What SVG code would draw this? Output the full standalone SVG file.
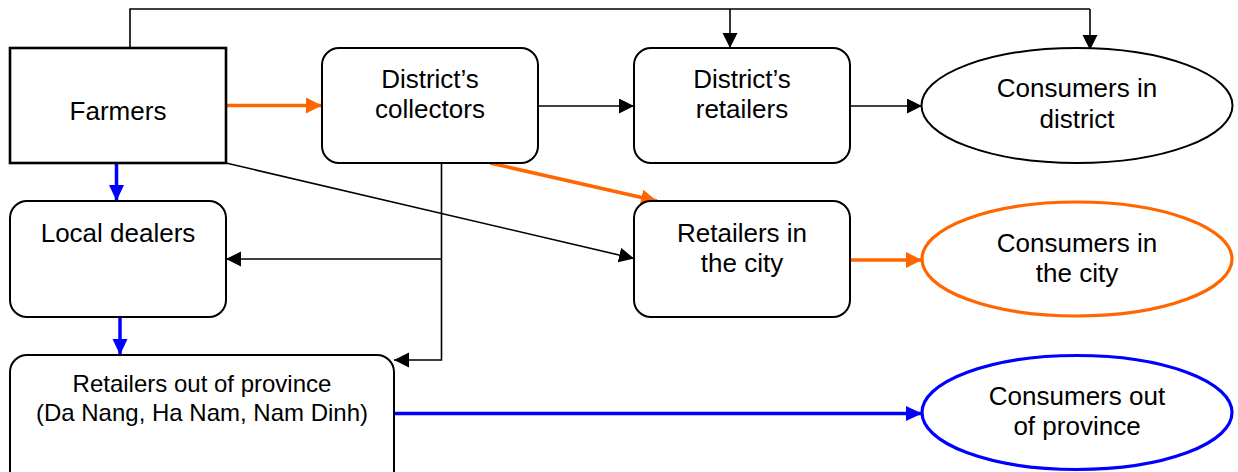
<svg xmlns="http://www.w3.org/2000/svg" width="1238" height="472" viewBox="0 0 1238 472">
<defs>
<style>
.box{fill:#fff;stroke:#000;stroke-width:2}
.t{font-family:"Liberation Sans",Arial,sans-serif;font-size:26px;fill:#000;text-anchor:middle}
.ts{font-family:"Liberation Sans",Arial,sans-serif;font-size:24px;fill:#000;text-anchor:middle}
.k{fill:none;stroke:#000;stroke-width:1.6}
.o{fill:none;stroke:#FF6600;stroke-width:3.5}
.b{fill:none;stroke:#0000FF;stroke-width:3.5}
</style>
<marker id="ak" markerUnits="userSpaceOnUse" markerWidth="16" markerHeight="16" refX="15" refY="7.5" orient="auto" viewBox="0 0 16 16"><path d="M0,0 L15,7.5 L0,15 z" fill="#000"/></marker>
<marker id="ao" markerUnits="userSpaceOnUse" markerWidth="17" markerHeight="17" refX="16" refY="8" orient="auto" viewBox="0 0 17 17"><path d="M0,0 L16,8 L0,16 z" fill="#FF6600"/></marker>
<marker id="ab" markerUnits="userSpaceOnUse" markerWidth="17" markerHeight="17" refX="16" refY="7.5" orient="auto" viewBox="0 0 17 17"><path d="M0,0 L16,7.5 L0,15 z" fill="#0000FF"/></marker>
</defs>
<rect width="1238" height="472" fill="#fff"/>
<g id="connectors">
<path class="k" d="M130,48 V9 H1090"/>
<path class="k" d="M730,9 V48" marker-end="url(#ak)"/>
<path class="k" d="M1090,9 V50" marker-end="url(#ak)"/>
<path class="o" d="M226,105.5 H322" marker-end="url(#ao)"/>
<path class="k" d="M538,106 H634" marker-end="url(#ak)"/>
<path class="k" d="M850,106 H922" marker-end="url(#ak)"/>
<path class="k" d="M226,163 L634,258.5" marker-end="url(#ak)"/>
<path class="o" d="M490,163 L657,201" marker-end="url(#ao)"/>
<path class="k" d="M441.5,163 V360 H394" marker-end="url(#ak)"/>
<path class="k" d="M441.5,259 H226" marker-end="url(#ak)"/>
<path class="b" d="M116.5,163 V201" marker-end="url(#ab)"/>
<path class="b" d="M120,317 V355" marker-end="url(#ab)"/>
<path class="o" d="M850,260 H922" marker-end="url(#ao)"/>
<path class="b" d="M394,413.5 H922" marker-end="url(#ab)"/>
</g>
<g id="farmers">
<rect x="10" y="48" width="216" height="115" fill="#fff" stroke="#000" stroke-width="2.6"/>
<text class="t" x="118" y="120">Farmers</text>
</g>
<g id="district-collectors">
<rect class="box" x="322" y="48" width="216" height="115" rx="17"/>
<text class="t" x="430" y="88">District’s</text>
<text class="t" x="430" y="118">collectors</text>
</g>
<g id="district-retailers">
<rect class="box" x="634" y="48" width="216" height="115" rx="17"/>
<text class="t" x="742" y="88">District’s</text>
<text class="t" x="742" y="118">retailers</text>
</g>
<g id="consumers-district">
<ellipse class="box" cx="1077" cy="105.5" rx="155.5" ry="57.5"/>
<text class="t" x="1077" y="97">Consumers in</text>
<text class="t" x="1077" y="128">district</text>
</g>
<g id="local-dealers">
<rect class="box" x="10" y="201" width="216" height="116" rx="17"/>
<text class="t" x="118" y="242">Local dealers</text>
</g>
<g id="retailers-city">
<rect class="box" x="634" y="201" width="216" height="116" rx="17"/>
<text class="t" x="742" y="242">Retailers in</text>
<text class="t" x="742" y="272">the city</text>
</g>
<g id="consumers-city">
<ellipse cx="1077" cy="259" rx="155" ry="57" fill="#fff" stroke="#FF6600" stroke-width="3.2"/>
<text class="t" x="1077" y="252">Consumers in</text>
<text class="t" x="1077" y="282">the city</text>
</g>
<g id="retailers-out">
<rect class="box" x="10" y="355" width="384" height="140" rx="17"/>
<text class="ts" x="202" y="392">Retailers out of province</text>
<text class="ts" x="202" y="421">(Da Nang, Ha Nam, Nam Dinh)</text>
</g>
<g id="consumers-out">
<ellipse cx="1077" cy="412.5" rx="155" ry="57" fill="#fff" stroke="#0000FF" stroke-width="3.2"/>
<text class="t" x="1077" y="405">Consumers out</text>
<text class="t" x="1077" y="435">of province</text>
</g>
</svg>
